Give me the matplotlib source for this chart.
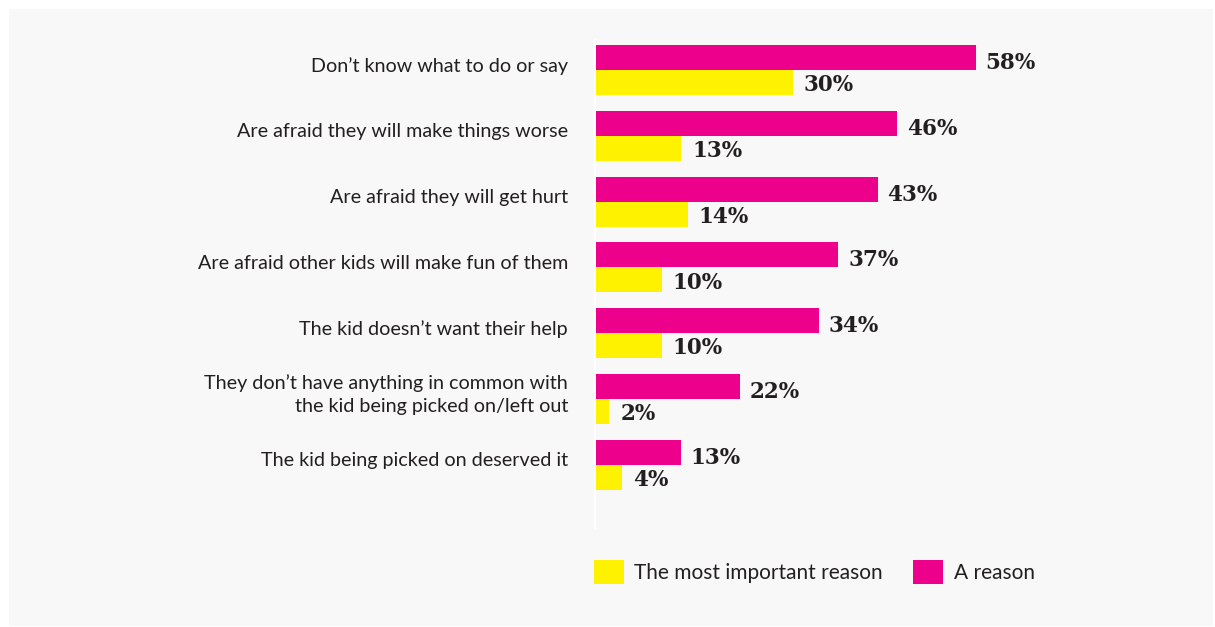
import matplotlib
matplotlib.use("Agg")
import matplotlib.pyplot as plt
from matplotlib.patches import Patch, Rectangle
import matplotlib.transforms as mtrans

categories = [
    "Don’t know what to do or say",
    "Are afraid they will make things worse",
    "Are afraid they will get hurt",
    "Are afraid other kids will make fun of them",
    "The kid doesn’t want their help",
    "They don’t have anything in common with\nthe kid being picked on/left out",
    "The kid being picked on deserved it",
]
a_reason = [58, 46, 43, 37, 34, 22, 13]
most_important = [30, 13, 14, 10, 10, 2, 4]
series_names = ["The most important reason", "A reason"]

MAGENTA = "#EC008C"
YELLOW = "#FFF200"
TEXT = "#231F20"
PANEL = "#F8F8F8"

W, H = 1215, 627
fig = plt.figure(figsize=(W / 100, H / 100), dpi=100, facecolor="white")
fig.add_artist(Rectangle((9 / W, 1 / H), (1213 - 9) / W, (618 - 1) / H,
                         transform=fig.transFigure, facecolor=PANEL,
                         edgecolor="none", zorder=-10))

# axes in pixel coordinates
x0, x1 = 595, 1200
ytop, ybot = 40, 528
ax = fig.add_axes([x0 / W, 1 - ybot / H, (x1 - x0) / W, (ybot - ytop) / H])
ax.set_facecolor("none")
pxper = 6.55
ax.set_xlim(-1 / pxper, (x1 - x0 - 1) / pxper)
gap = 65.8
ax.set_ylim((ybot - 70) / gap, -(70 - ytop) / gap)

bh = 25 / gap
ys = list(range(len(categories)))
ax.barh([y - bh / 2 for y in ys], a_reason, height=bh, color=MAGENTA, zorder=3)
ax.barh([y + bh / 2 for y in ys], most_important, height=bh, color=YELLOW, zorder=3)

vfont = dict(family="DejaVu Serif", weight="bold", size=15.5, color=TEXT)
for y, v in zip(ys, a_reason):
    ax.annotate(f"{v}%", (v, y - bh / 2), xytext=(7, -4), textcoords="offset points",
                ha="left", va="center", **vfont)
for y, v in zip(ys, most_important):
    ax.annotate(f"{v}%", (v, y + bh / 2), xytext=(8, -2), textcoords="offset points",
                ha="left", va="center", **vfont)

# category labels
ax.set_yticks([])
lab_trans = ax.get_yaxis_transform() + mtrans.ScaledTranslation(-27 / 100, 4 / 100, fig.dpi_scale_trans)
for y, c in zip(ys, categories):
    ax.text(0, y, c, transform=lab_trans, ha="right", va="center",
            family="Lato", size=14.2, color=TEXT, linespacing=1.42)
ax.tick_params(axis="x", bottom=False, labelbottom=False)
for s in ["top", "right", "bottom"]:
    ax.spines[s].set_visible(False)
ax.spines["left"].set_color("white")
ax.spines["left"].set_linewidth(1.5)

handles = [Patch(facecolor=YELLOW, edgecolor="none"), Patch(facecolor=MAGENTA, edgecolor="none")]
leg = fig.legend(handles, series_names, loc="center left",
                 bbox_to_anchor=(575 / W, 1 - 572 / H), ncol=2, frameon=False,
                 prop=dict(family="Lato", size=15), handlelength=1.45, handleheight=1.45,
                 handletextpad=0.5, columnspacing=1.45, labelcolor=TEXT)

fig.savefig("out.png", dpi=100, facecolor="white")
